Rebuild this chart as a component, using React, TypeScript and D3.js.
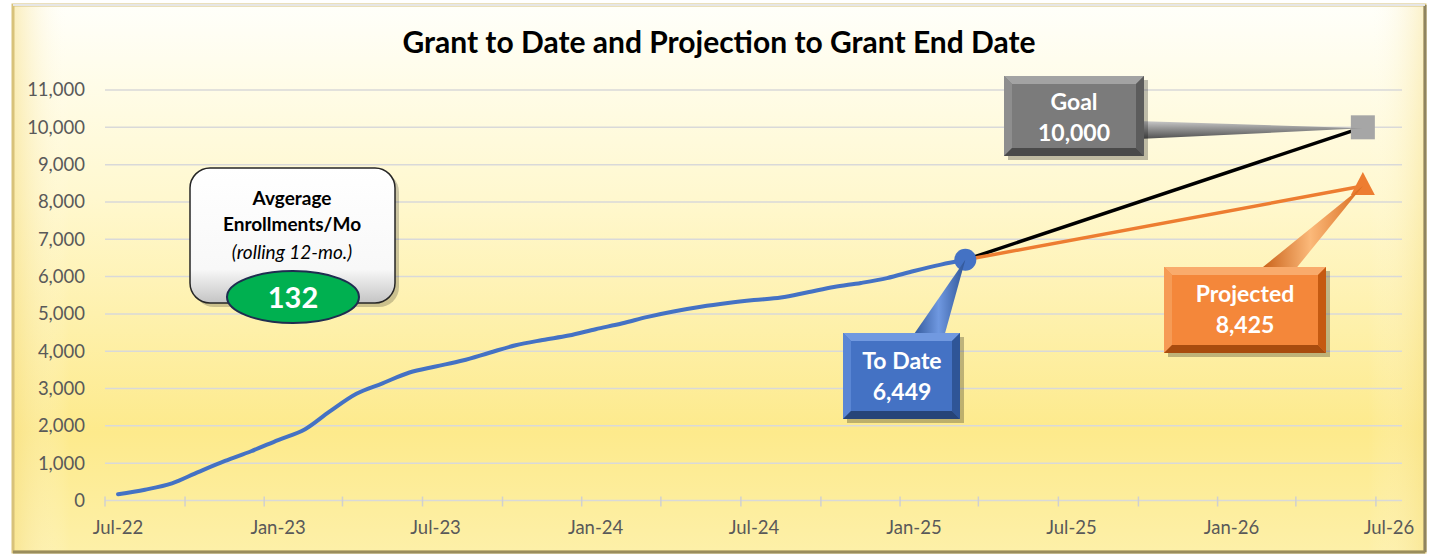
import { useMemo } from "react";
import * as d3 from "d3";

// monthly cumulative enrollments, Jul-22 .. Mar-25
const months = [
  "2022-07", "2022-08", "2022-09", "2022-10", "2022-11", "2022-12",
  "2023-01", "2023-02", "2023-03", "2023-04", "2023-05", "2023-06",
  "2023-07", "2023-08", "2023-09", "2023-10", "2023-11", "2023-12",
  "2024-01", "2024-02", "2024-03", "2024-04", "2024-05", "2024-06",
  "2024-07", "2024-08", "2024-09", "2024-10", "2024-11", "2024-12",
  "2025-01", "2025-02", "2025-03",
];
const toDate = [
  170, 290, 460, 760, 1060, 1320,
  1620, 1910, 2380, 2860, 3140, 3430,
  3590, 3750, 3960, 4160, 4300, 4420,
  4590, 4750, 4920, 5070, 5190, 5290,
  5370, 5440, 5580, 5720, 5830, 5960,
  6150, 6320, 6449,
];
const projMonths = ["2025-03", "2026-06"];
const goalValues = [6449, 10000];
const projectedValues = [6449, 8425];

const xLabels = ["Jul-22", "Jan-23", "Jul-23", "Jan-24", "Jul-24", "Jan-25", "Jul-25", "Jan-26", "Jul-26"];
const xLabelMonths = ["2022-07", "2023-01", "2023-07", "2024-01", "2024-07", "2025-01", "2025-07", "2026-01", "2026-07"];
const yTicks = [0, 1000, 2000, 3000, 4000, 5000, 6000, 7000, 8000, 9000, 10000, 11000];

const avgPerMonth = 132;
const title = "Grant to Date and Projection to Grant End Date";

const W = 1438;
const H = 555;
const FONT = "Lato, 'Open Sans', sans-serif";

const parseM = d3.timeParse("%Y-%m");

function Bevel({ x, y, w, h, b, c }) {
  // c: [center, top, left, right, bottom]
  return (
    <g>
      <rect x={x + 4} y={y + 4} width={w} height={h} fill="#000" opacity={0.25} />
      <rect x={x} y={y} width={w} height={h} fill={c[0]} />
      <polygon points={`${x},${y} ${x + w},${y} ${x + w - b},${y + b} ${x + b},${y + b}`} fill={c[1]} />
      <polygon points={`${x},${y} ${x + b},${y + b} ${x + b},${y + h - b} ${x},${y + h}`} fill={c[2]} />
      <polygon points={`${x + w},${y} ${x + w},${y + h} ${x + w - b},${y + h - b} ${x + w - b},${y + b}`} fill={c[3]} />
      <polygon points={`${x},${y + h} ${x + b},${y + h - b} ${x + w - b},${y + h - b} ${x + w},${y + h}`} fill={c[4]} />
    </g>
  );
}

export default function App() {
  const start = new Date(2022, 5, 16);
  const end = new Date(2026, 6, 16);
  const x = d3.scaleTime().domain([start, end]).range([105, 1402]);
  const y = d3.scaleLinear().domain([0, 11000]).range([500.5, 90]);

  const tickDates = useMemo(() => d3.range(17).map((i) => d3.timeMonth.offset(start, 3 * i)), []);

  const line = d3.line<[Date, number]>()
    .x((d) => x(d[0]))
    .y((d) => y(d[1]))
    .curve(d3.curveMonotoneX);

  const actual: [Date, number][] = months.map((m, i) => [parseM(m)!, toDate[i]]);
  const goal: [Date, number][] = projMonths.map((m, i) => [parseM(m)!, goalValues[i]]);
  const proj: [Date, number][] = projMonths.map((m, i) => [parseM(m)!, projectedValues[i]]);

  const last = actual[actual.length - 1];
  const lx = x(last[0]);
  const ly = y(last[1]);
  const gx = x(goal[1][0]);
  const gy = y(goal[1][1]);
  const px = x(proj[1][0]);
  const py = y(proj[1][1]);

  const fmt = d3.format(",");

  return (
    <div style={{ position: "absolute", left: 0, top: 0 }}>
      <svg width={W} height={H} viewBox={`0 0 ${W} ${H}`} style={{ display: "block" }}>
        <defs>
          <linearGradient id="bg" x1="0" y1="0" x2="0" y2="1">
            <stop offset="0%" stopColor="#fffffa" />
            <stop offset="35%" stopColor="#fff8cf" />
            <stop offset="78%" stopColor="#fdea8c" />
            <stop offset="100%" stopColor="#fdf0a8" />
          </linearGradient>
          <linearGradient id="bgH" x1="0" y1="0" x2="1" y2="0">
            <stop offset="0%" stopColor="#f5dc80" stopOpacity={0.5} />
            <stop offset="4%" stopColor="#fff" stopOpacity={0} />
            <stop offset="96%" stopColor="#fff" stopOpacity={0} />
            <stop offset="100%" stopColor="#f5dc80" stopOpacity={0.4} />
          </linearGradient>
          <linearGradient id="avgFill" x1="0" y1="0" x2="0" y2="1">
            <stop offset="0%" stopColor="#ffffff" />
            <stop offset="75%" stopColor="#f8f8f8" />
            <stop offset="100%" stopColor="#c4c4c4" />
          </linearGradient>
          <linearGradient id="goalPtr" x1="0" y1="0" x2="0" y2="1">
            <stop offset="0%" stopColor="#c8c8c8" />
            <stop offset="50%" stopColor="#8a8a8a" />
            <stop offset="100%" stopColor="#4f4f4f" />
          </linearGradient>
          <linearGradient id="blueLinePtr" x1="0" y1="0" x2="1" y2="0">
            <stop offset="0%" stopColor="#2f5597" />
            <stop offset="50%" stopColor="#6f98e0" />
            <stop offset="100%" stopColor="#2f5597" />
          </linearGradient>
          <linearGradient id="orangePtr" x1="0" y1="0" x2="1" y2="0">
            <stop offset="0%" stopColor="#c55a11" />
            <stop offset="50%" stopColor="#fbb97a" />
            <stop offset="100%" stopColor="#d86a1c" />
          </linearGradient>
        </defs>

        {/* frame */}
        <rect x={13} y={5} width={1412} height={547} fill="url(#bg)" />
        <rect x={13} y={5} width={1412} height={547} fill="url(#bgH)" />
        <rect x={13} y={5} width={1412} height={547} fill="none" stroke="#d8c27a" strokeWidth={3} />
        <line x1={1425} y1={5} x2={1425} y2={552} stroke="#8f8460" strokeWidth={3} />
        <line x1={13} y1={552} x2={1425} y2={552} stroke="#9a8d5c" strokeWidth={3} />
        <line x1={13} y1={5} x2={1425} y2={5} stroke="#e6e6e6" strokeWidth={2} />

        {/* title */}
        <text x={719} y={53} textAnchor="middle" fontFamily={FONT} fontWeight={700} fontSize={30} fill="#000">
          {title}
        </text>

        {/* grid + y labels */}
        {yTicks.map((t) => (
          <g key={t}>
            <line x1={105} x2={1402} y1={y(t)} y2={y(t)} stroke="#d9d9d9" strokeWidth={1.5} />
            <text x={85} y={y(t)} dy="0.35em" textAnchor="end" fontFamily={FONT} fontSize={18.5} fill="#595959">
              {fmt(t)}
            </text>
          </g>
        ))}

        {/* x ticks */}
        {tickDates.map((d, i) => (
          <line key={i} x1={x(d)} x2={x(d)} y1={y(0) - 4} y2={y(0) + 6} stroke="#d0d0d0" strokeWidth={1.5} />
        ))}
        {xLabels.map((l, i) => (
          <text key={l} x={x(parseM(xLabelMonths[i])!)} y={528} dy="0.35em" textAnchor="middle" fontFamily={FONT} fontSize={18.5} fill="#595959">
            {l}
          </text>
        ))}

        {/* series */}
        <path d={line(actual)!} fill="none" stroke="#4472c4" strokeWidth={4} strokeLinejoin="round" strokeLinecap="round" />
        <path d={line(goal)!} fill="none" stroke="#000" strokeWidth={3.5} />
        <path d={line(proj)!} fill="none" stroke="#ed7d31" strokeWidth={3.5} />
        <circle cx={lx} cy={ly} r={11} fill="#4472c4" />
        <rect x={gx - 12} y={gy - 12} width={24} height={24} fill="#a6a6a6" />
        <polygon points={`${px},${py - 14} ${px + 12},${py + 9} ${px - 12},${py + 9}`} fill="#ed7d31" />

        {/* Goal callout */}
        <polygon points={`1138,121 1138,139 ${gx},${gy + 1}`} fill="url(#goalPtr)" />
        <Bevel x={1004} y={76} w={140} h={80} b={8} c={["#7b7b7b", "#a3a3a3", "#8e8e8e", "#5c5c5c", "#4a4a4a"]} />
        <text x={1074} y={102} dy="0.35em" textAnchor="middle" fontFamily={FONT} fontWeight={700} fontSize={23} fill="#fff">Goal</text>
        <text x={1074} y={133} dy="0.35em" textAnchor="middle" fontFamily={FONT} fontWeight={700} fontSize={23} fill="#fff">{fmt(goalValues[1])}</text>

        {/* To Date callout */}
        <polygon points={`912,337 944,337 ${lx},${ly}`} fill="url(#blueLinePtr)" />
        <Bevel x={843} y={333} w={117} h={86} b={8} c={["#4472c4", "#7199e0", "#5a86d4", "#2f5597", "#264478"]} />
        <text x={902} y={361} dy="0.35em" textAnchor="middle" fontFamily={FONT} fontWeight={700} fontSize={23} fill="#fff">To Date</text>
        <text x={902} y={392} dy="0.35em" textAnchor="middle" fontFamily={FONT} fontWeight={700} fontSize={23} fill="#fff">{fmt(last[1])}</text>

        {/* Projected callout */}
        <polygon points={`1258,271 1294,271 ${px},${py}`} fill="url(#orangePtr)" />
        <Bevel x={1164} y={267} w={162} h={86} b={8} c={["#f4873a", "#f9ab6c", "#f69b55", "#c55a11", "#a84c0e"]} />
        <text x={1245} y={294} dy="0.35em" textAnchor="middle" fontFamily={FONT} fontWeight={700} fontSize={23} fill="#fff">Projected</text>
        <text x={1245} y={325} dy="0.35em" textAnchor="middle" fontFamily={FONT} fontWeight={700} fontSize={23} fill="#fff">{fmt(proj[1][1])}</text>

        {/* Average box */}
        <rect x={194} y={172} width={205} height={135} rx={20} fill="#000" opacity={0.2} />
        <rect x={190} y={168} width={205} height={135} rx={20} fill="url(#avgFill)" stroke="#262626" strokeWidth={1.5} />
        <text x={292} y={198} dy="0.35em" textAnchor="middle" fontFamily={FONT} fontWeight={700} fontSize={19} fill="#000">Avgerage</text>
        <text x={292} y={224} dy="0.35em" textAnchor="middle" fontFamily={FONT} fontWeight={700} fontSize={19} fill="#000">Enrollments/Mo</text>
        <text x={292} y={252} dy="0.35em" textAnchor="middle" fontFamily={FONT} fontStyle="italic" fontSize={19} fill="#000">(rolling 12-mo.)</text>
        <ellipse cx={293} cy={297} rx={66} ry={26} fill="#00b050" stroke="#1f2d50" strokeWidth={2} />
        <text x={293} y={298} dy="0.35em" textAnchor="middle" fontFamily={FONT} fontWeight={700} fontSize={29} fill="#fff">{avgPerMonth}</text>
      </svg>
    </div>
  );
}
